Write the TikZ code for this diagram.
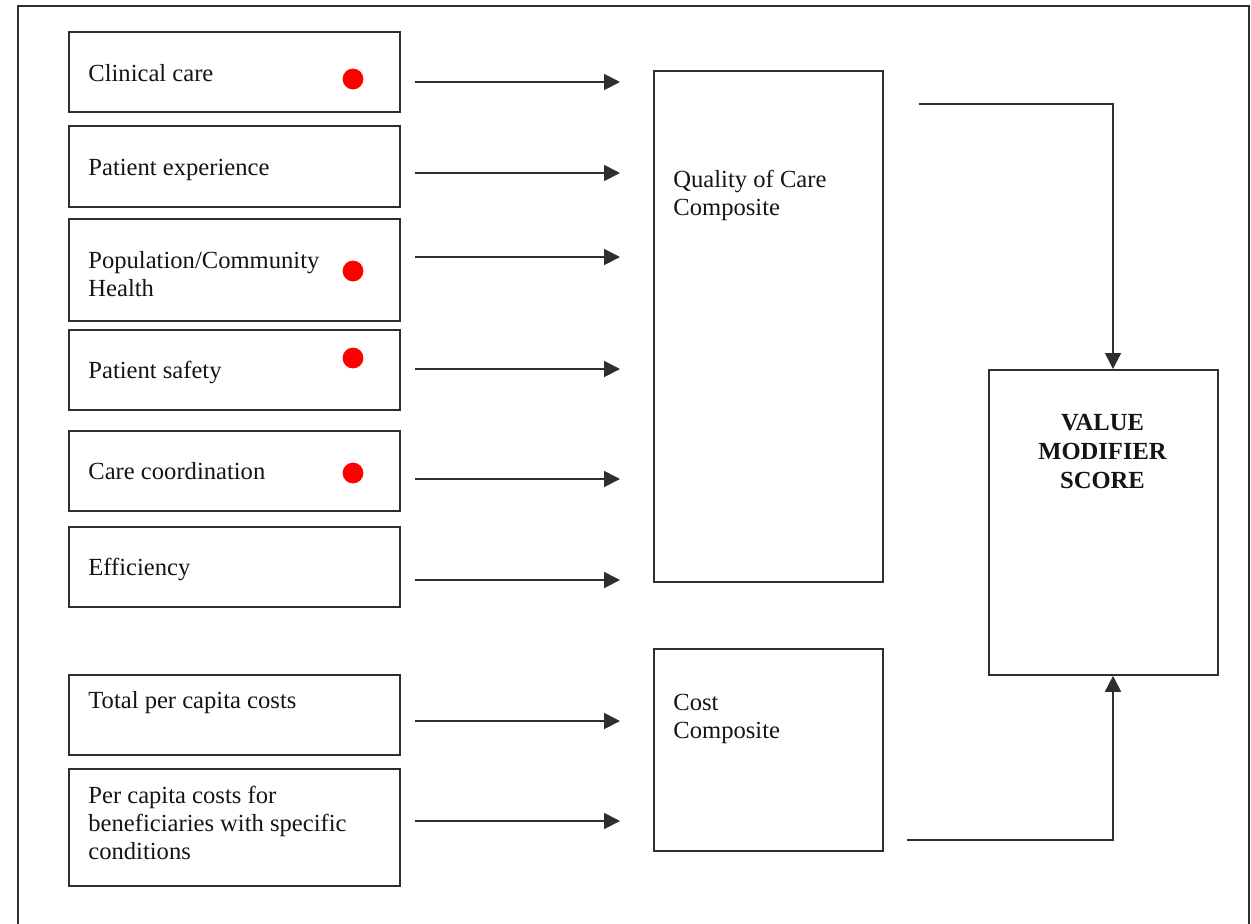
\documentclass[tikz,border=0pt]{standalone}
\usepackage{fontspec}
\setmainfont{Liberation Serif}
\usetikzlibrary{arrows.meta}

\tikzset{
  line/.style={draw=black!82, line width=0.9pt},
  box/.style={line, rectangle, inner sep=0pt, anchor=north west},
  % multi-line labels are placed by the baseline of their last line
  lbl/.style={inner sep=0pt, anchor=base west, align=left, text=black!92,
              font=\fontsize{12.3}{14}\selectfont},
  title/.style={lbl, anchor=base, align=center, font=\fontsize{12.3}{14.5}\selectfont\bfseries},
  arr/.style={line, -{Triangle[length=8pt, width=8pt]}},
  feed/.style={arr, shorten <=7pt, shorten >=16.5pt},
  dot/.style={circle, fill=red, draw=none, minimum size=10.4pt, inner sep=0pt},
}

\begin{document}
\begin{tikzpicture}[x=0.5pt, y=-0.5pt]
  \useasboundingbox (0,0) rectangle (1251,923);

  % outer frame, running off the bottom of the page
  \draw[line] (18,930) -- (18,6) -- (1249,6) -- (1249,930);

  % measure boxes
  \node[box, minimum width=165.5pt, minimum height=40pt]   (b1) at (68,31)  {};
  \node[box, minimum width=165.5pt, minimum height=40.5pt] (b2) at (68,125) {};
  \node[box, minimum width=165.5pt, minimum height=51pt]   (b3) at (68,218) {};
  \node[box, minimum width=165.5pt, minimum height=40pt]   (b4) at (68,329) {};
  \node[box, minimum width=165.5pt, minimum height=40pt]   (b5) at (68,430) {};
  \node[box, minimum width=165.5pt, minimum height=40pt]   (b6) at (68,526) {};
  \node[box, minimum width=165.5pt, minimum height=40pt]   (b7) at (68,674) {};
  \node[box, minimum width=165.5pt, minimum height=58.5pt] (b8) at (68,768) {};

  \node[lbl] (t1) at (88,81)  {Clinical care};
  \node[lbl] (t2) at (88,175) {Patient experience};
  \node[lbl] (t3) at (88,296) {Population/Community\\Health};
  \node[lbl] (t4) at (88,378) {Patient safety};
  \node[lbl] (t5) at (88,479) {Care coordination};
  \node[lbl] (t6) at (88,575) {Efficiency};
  \node[lbl] (t7) at (88,708) {Total per capita costs};
  \node[lbl] (t8) at (88,859) {Per capita costs for\\beneficiaries with specific\\conditions};

  % markers
  \node[dot] (d1) at (353,79)  {};
  \node[dot] (d3) at (353,271) {};
  \node[dot] (d4) at (353,358) {};
  \node[dot] (d5) at (353,473) {};

  % composites
  \node[box, minimum width=114.5pt, minimum height=255.5pt] (qual) at (653,70)  {};
  \node[box, minimum width=114.5pt, minimum height=101pt]   (cost) at (653,648) {};
  \node[lbl] (tq) at (673,215) {Quality of Care\\Composite};
  \node[lbl] (tc) at (673,738) {Cost\\Composite};

  % final score
  \node[box, minimum width=114.5pt, minimum height=152.5pt] (value) at (988,369) {};
  \node[title] (tv) at (1102.5,488) {VALUE\\MODIFIER\\SCORE};

  % arrow levels
  \coordinate (y1) at (0,82);
  \coordinate (y2) at (0,173);
  \coordinate (y3) at (0,257);
  \coordinate (y4) at (0,369);
  \coordinate (y5) at (0,479);
  \coordinate (y6) at (0,580);
  \coordinate (y7) at (0,721);
  \coordinate (y8) at (0,821);

  \foreach \i in {1,...,6}
    \draw[feed] (b\i.east |- y\i) -- (qual.west |- y\i);
  \foreach \i in {7,8}
    \draw[feed] (b\i.east |- y\i) -- (cost.west |- y\i);

  % composites into the score
  \coordinate (qv) at (1113,104);
  \coordinate (cv) at (1113,840);
  \draw[arr, shorten <=17.5pt] (qual.east |- qv) -- (qv) -- (value.north -| qv);
  \draw[arr, shorten <=11.5pt] (cost.east |- cv) -- (cv) -- (value.south -| cv);
\end{tikzpicture}
\end{document}
